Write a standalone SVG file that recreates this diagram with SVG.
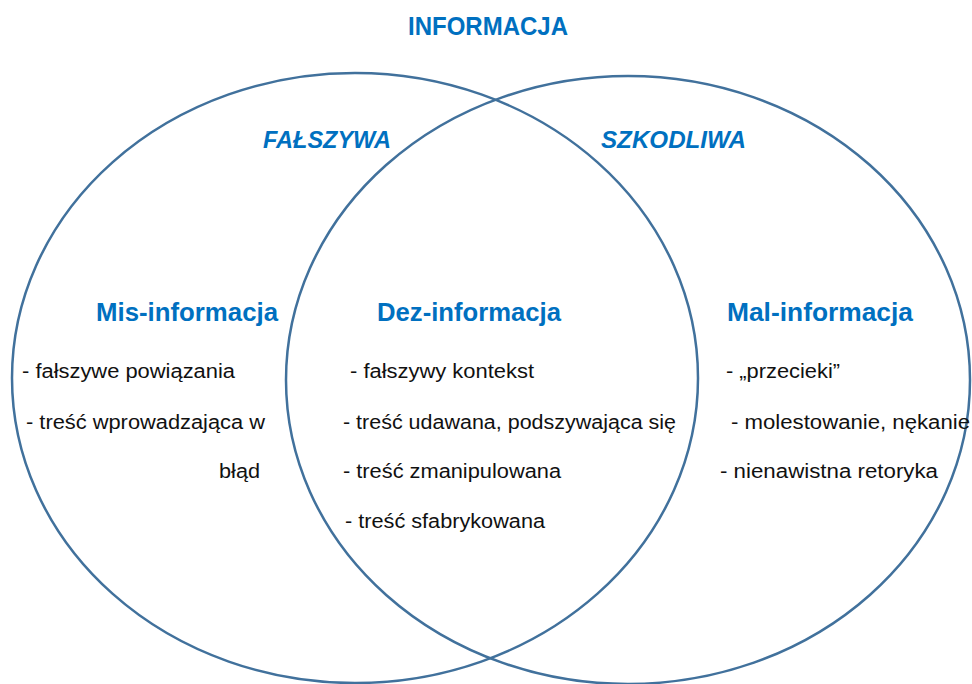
<svg xmlns="http://www.w3.org/2000/svg" width="972" height="684" viewBox="0 0 972 684">
<style>
.e{fill:none;stroke:#41719C;stroke-width:2.5}
.h{font-family:"Liberation Sans",Arial,sans-serif;font-weight:bold;fill:#0070C0}
.t{font-family:"Liberation Sans",Arial,sans-serif;font-size:20px;fill:#111}
</style>
<rect width="972" height="684" fill="#fff"/>
<g id="connectors"/>
<g id="left-circle"><ellipse class="e" cx="355" cy="378" rx="343" ry="305"/></g>
<g id="right-circle"><ellipse class="e" cx="628" cy="380" rx="342" ry="304"/></g>
<g id="title"><text class="h" x="408" y="35" font-size="25" textLength="160" lengthAdjust="spacingAndGlyphs">INFORMACJA</text></g>
<g id="falszywa"><text class="h" x="263" y="148" font-size="24" font-style="italic" textLength="128" lengthAdjust="spacingAndGlyphs">FAŁSZYWA</text></g>
<g id="szkodliwa"><text class="h" x="601" y="148" font-size="24" font-style="italic" textLength="145" lengthAdjust="spacingAndGlyphs">SZKODLIWA</text></g>
<g id="mis">
<text class="h" x="96" y="321" font-size="25" textLength="182" lengthAdjust="spacingAndGlyphs">Mis-informacja</text>
<text class="t" x="22" y="378" textLength="213" lengthAdjust="spacingAndGlyphs">- fałszywe powiązania</text>
<text class="t" x="26" y="429" textLength="239" lengthAdjust="spacingAndGlyphs">- treść wprowadzająca w</text>
<text class="t" x="219" y="478" textLength="41" lengthAdjust="spacingAndGlyphs">błąd</text>
</g>
<g id="dez">
<text class="h" x="377" y="321" font-size="25" textLength="184" lengthAdjust="spacingAndGlyphs">Dez-informacja</text>
<text class="t" x="350" y="378" textLength="184" lengthAdjust="spacingAndGlyphs">- fałszywy kontekst</text>
<text class="t" x="343" y="429" textLength="333" lengthAdjust="spacingAndGlyphs">- treść udawana, podszywająca się</text>
<text class="t" x="343" y="478" textLength="218" lengthAdjust="spacingAndGlyphs">- treść zmanipulowana</text>
<text class="t" x="345" y="528" textLength="200" lengthAdjust="spacingAndGlyphs">- treść sfabrykowana</text>
</g>
<g id="mal">
<text class="h" x="727" y="321" font-size="25" textLength="186" lengthAdjust="spacingAndGlyphs">Mal-informacja</text>
<text class="t" x="726" y="378" textLength="114" lengthAdjust="spacingAndGlyphs">- „przecieki”</text>
<text class="t" x="731" y="429" textLength="239" lengthAdjust="spacingAndGlyphs">- molestowanie, nękanie</text>
<text class="t" x="720" y="478" textLength="218" lengthAdjust="spacingAndGlyphs">- nienawistna retoryka</text>
</g>
</svg>
